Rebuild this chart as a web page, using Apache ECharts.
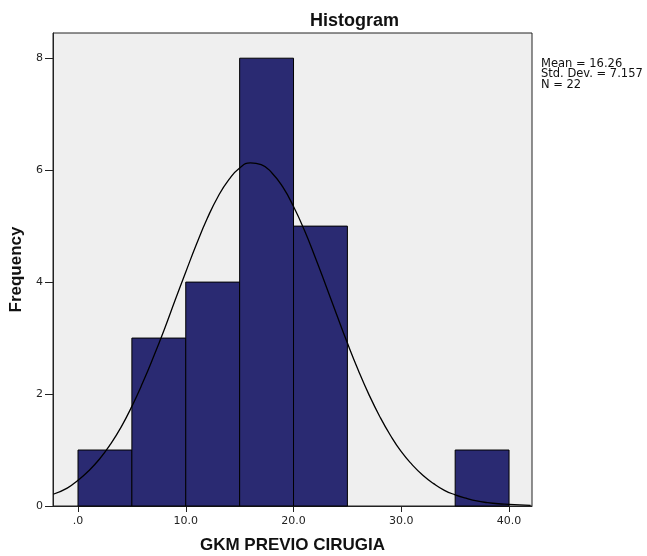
<!DOCTYPE html>
<html>
<head>
<meta charset="utf-8">
<script src="https://cdn.jsdelivr.net/npm/echarts@6/dist/echarts.min.js"></script>
<style>
  html, body { margin: 0; padding: 0; background: #fff; }
  #chart { width: 647px; height: 556px; }
</style>
</head>
<body>
<div id="chart"></div>
<script>
// bins of the histogram (lower edge, upper edge) and counts
const binStart = [0, 5, 10, 15, 20, 35];
const binEnd = [5, 10, 15, 20, 25, 40];
const counts = [1, 3, 4, 8, 5, 1];

// normal curve
const curveX = [-2.3, -1, 0, 1, 2, 3, 4, 5, 6, 7, 8, 9, 10, 11, 12, 13, 14, 15, 16, 17, 18, 19, 20,
  21, 22, 23, 24, 25, 26, 27, 28, 29, 30, 31, 32, 33, 34, 35, 36, 37, 38, 39, 40, 41, 42];
const curveY = [0.21, 0.32, 0.46, 0.63, 0.84, 1.1, 1.41, 1.78, 2.2, 2.66, 3.15, 3.67, 4.18, 4.68, 5.14, 5.53, 5.83, 6.04, 6.13, 6.1, 5.95, 5.7, 5.35,
  4.93, 4.45, 3.94, 3.42, 2.91, 2.43, 1.99, 1.6, 1.26, 0.97, 0.74, 0.55, 0.4, 0.28, 0.2, 0.14, 0.09, 0.06, 0.04, 0.03, 0.02, 0.01];

const xTickValues = [0, 10, 20, 30, 40];
const xTickLabels = ['.0', '10.0', '20.0', '30.0', '40.0'];
const statLines = ['Mean = 16.26', 'Std. Dev. = 7.157', 'N = 22'];

const chart = echarts.init(document.getElementById('chart'));

const bars = binStart.map((s, i) => [s, binEnd[i], counts[i]]);
const curve = curveX.map((x, i) => [x, curveY[i]]);

const font = 'Liberation Sans, Arial, sans-serif';
const labelFont = 'DejaVu Sans, sans-serif';

chart.setOption({
  animation: false,
  backgroundColor: '#fff',
  title: {
    text: 'Histogram',
    left: 305,
    top: 7,
    textStyle: { fontFamily: font, fontSize: 18, fontWeight: 'bold', color: '#111' }
  },
  grid: {
    left: 53, right: 115, top: 33, bottom: 50,
    containLabel: false,
    outerBoundsMode: 'none',
    show: true,
    backgroundColor: '#efefef',
    borderColor: '#222',
    borderWidth: 1
  },
  xAxis: {
    type: 'value',
    min: -2.32,
    max: 42.13,
    name: 'GKM PREVIO CIRUGIA',
    nameLocation: 'middle',
    nameGap: 31,
    nameTextStyle: { fontFamily: font, fontSize: 17, fontWeight: 'bold', color: '#111' },
    splitLine: { show: false },
    axisLine: { onZero: false, lineStyle: { color: '#222' } },
    axisTick: { customValues: xTickValues, length: 6, lineStyle: { color: '#222' } },
    axisLabel: {
      customValues: xTickValues,
      formatter: v => xTickLabels[xTickValues.indexOf(v)],
      fontFamily: labelFont, fontSize: 11, color: '#222', margin: 10
    }
  },
  yAxis: {
    type: 'value',
    min: 0,
    max: 8.45,
    interval: 2,
    name: 'Frequency',
    nameLocation: 'middle',
    nameGap: 27,
    nameTextStyle: { fontFamily: font, fontSize: 17, fontWeight: 'bold', color: '#111' },
    splitLine: { show: false },
    axisLine: { show: true, onZero: false, lineStyle: { color: '#222' } },
    axisTick: { show: true, length: 8, lineStyle: { color: '#222' } },
    axisLabel: { fontFamily: labelFont, fontSize: 11, color: '#222', margin: 10, showMaxLabel: false }
  },
  graphic: [{
    type: 'text',
    left: 541,
    top: 58,
    style: {
      text: statLines.join('\n'),
      font: '11.5px ' + labelFont,
      lineHeight: 10.5,
      fill: '#111'
    }
  }],
  series: [
    {
      type: 'custom',
      data: bars,
      encode: { x: [0, 1], y: 2 },
      renderItem: (params, api) => {
        const p0 = api.coord([api.value(0), api.value(2)]);
        const p1 = api.coord([api.value(1), 0]);
        return {
          type: 'rect',
          shape: { x: p0[0], y: p0[1], width: p1[0] - p0[0], height: p1[1] - p0[1] },
          style: { fill: '#2a2a72', stroke: '#000', lineWidth: 1 }
        };
      }
    },
    {
      type: 'line',
      data: curve,
      smooth: true,
      symbol: 'none',
      clip: true,
      lineStyle: { color: '#000', width: 1.3 },
      z: 5
    }
  ]
});
</script>
</body>
</html>
